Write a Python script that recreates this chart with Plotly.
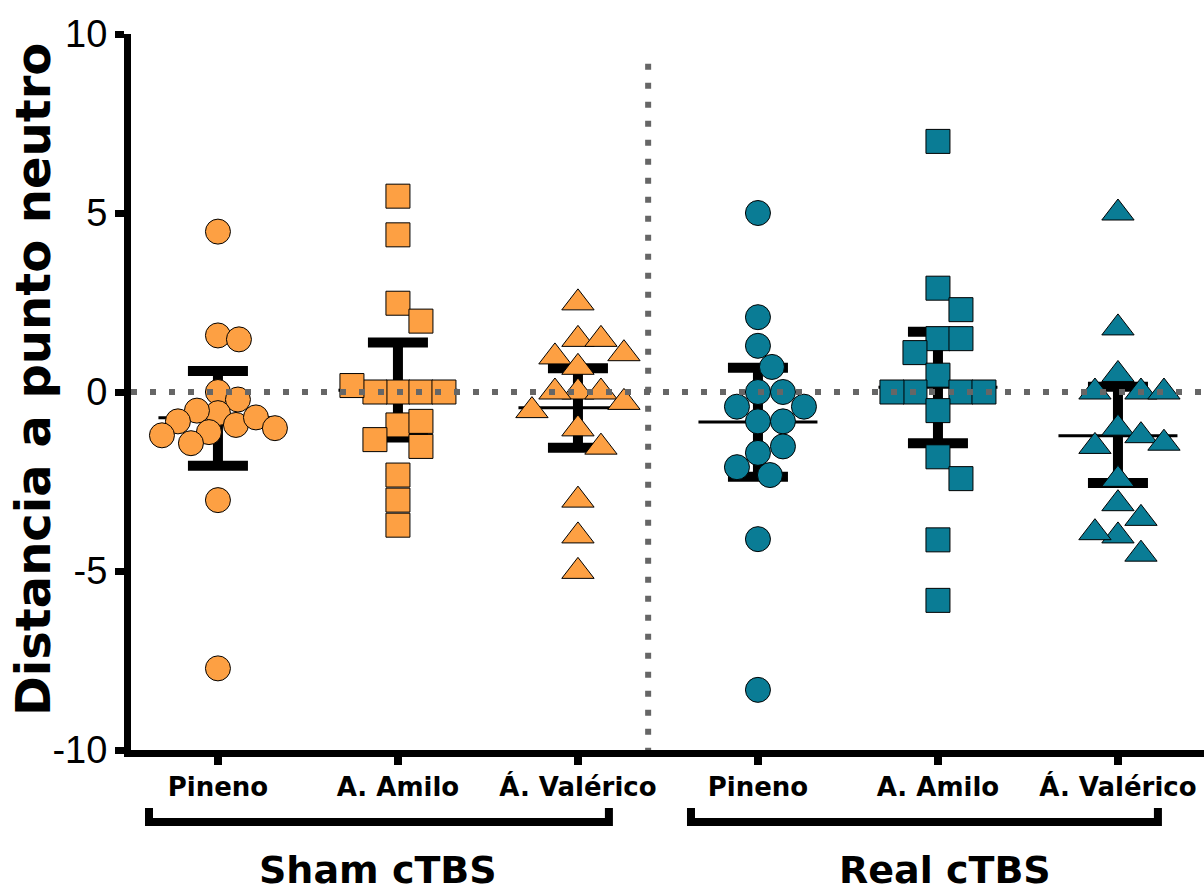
import plotly.graph_objects as go

# ---------------- data ----------------
categories = ["Pineno", "A. Amilo", "Á. Valérico", "Pineno", "A. Amilo", "Á. Valérico"]
group_labels = ["Sham cTBS", "Real cTBS"]

sham_pineno = [4.48, 1.58, 1.47, 0.0, -0.21, -0.59, -0.52, -0.92, -0.71, -0.82, -1.01, -1.12, -1.21, -1.43, -3.02, -7.72]
sham_amilo = [5.47, 4.39, 2.48, 1.98, 0.0, 0.0, 0.0, 0.0, 0.18, -0.92, -0.82, -1.52, -1.33, -2.32, -3.02, -3.72]
sham_valerico = [2.49, 1.47, 1.47, 0.98, 1.07, 0.69, 0.0, 0.0, 0.0, -0.29, -0.52, -1.03, -1.54, -3.02, -4.02, -5.01]
real_pineno = [5.0, 2.09, 1.29, 0.70, 0.0, 0.0, -0.41, -0.41, -0.82, -0.82, -1.70, -1.52, -2.10, -2.32, -4.11, -8.32]
real_amilo = [7.0, 2.90, 2.30, 1.49, 1.49, 1.10, 0.47, 0.0, 0.0, 0.0, 0.0, -0.52, -1.81, -2.42, -4.13, -5.82]
real_valerico = [5.0, 1.79, 0.49, 0.0, 0.0, 0.0, -1.01, -1.22, -1.52, -1.43, -2.44, -3.12, -3.53, -4.02, -3.93, -4.53]

means = [-0.72, 0.05, -0.44, -0.84, 0.13, -1.22]
ci_low = [-2.06, -1.27, -1.56, -2.37, -1.43, -2.54]
ci_high = [0.59, 1.38, 0.66, 0.68, 1.68, 0.15]

y_ticks = [-10, -5, 0, 5, 10]
y_ticktext = ["-10", "-5", "0", "5", "10"]

# ---------------- styling ----------------
ORANGE = "#FDA043"
TEAL = "#0A7C95"
W, H = 1204, 895
M_L, M_R, M_T, M_B = 131, 0, 34, 145
X_RANGE = [0.517, 6.478]
Y_RANGE = [-10, 10]
PX_X = (W - M_L - M_R) / (X_RANGE[1] - X_RANGE[0])
PX_Y = (H - M_T - M_B) / (Y_RANGE[1] - Y_RANGE[0])


def swarm(vals, dia, kind):
    """Greedy beeswarm: horizontal offsets (in axis units) so markers barely overlap."""
    placed = []
    offs = []
    for v in vals:
        y = v * PX_Y
        best = 0
        found = False
        for k in range(0, 400):
            for cand in ([0] if k == 0 else [k, -k]):
                ok = True
                for (px, py) in placed:
                    dx = cand - px
                    dy = y - py
                    if kind == "circle":
                        hit = dx * dx + dy * dy < dia * dia
                    else:
                        hit = abs(dx) < dia and abs(dy) < dia
                    if hit:
                        ok = False
                        break
                if ok:
                    best = cand
                    found = True
                    break
            if found:
                break
        placed.append((best, y))
        offs.append(best / PX_X)
    return offs


series = [
    (sham_pineno, "circle", ORANGE, 25, 21),
    (sham_amilo, "square", ORANGE, 24, 23),
    (sham_valerico, "triangle-up", ORANGE, 28, 23),
    (real_pineno, "circle", TEAL, 25, 25),
    (real_amilo, "square", TEAL, 24, 23),
    (real_valerico, "triangle-up", TEAL, 28, 23),
]

fig = go.Figure()

# mean + 95% CI bars (behind the points)
positions = list(range(1, 7))
fig.add_trace(go.Scatter(
    x=positions, y=means, mode="markers",
    marker=dict(symbol="line-ew", size=85, color="black", line=dict(color="black", width=3)),
    error_y=dict(type="data", symmetric=False,
                 array=[h - m for h, m in zip(ci_high, means)],
                 arrayminus=[m - l for m, l in zip(means, ci_low)],
                 color="black", thickness=10, width=30),
    showlegend=False, hoverinfo="skip",
))

for i, (vals, sym, col, size, dia) in enumerate(series):
    kind = "circle" if sym == "circle" else "box"
    offs = swarm(vals, dia, kind)
    fig.add_trace(go.Scatter(
        x=[positions[i] + o for o in offs], y=vals, mode="markers",
        marker=dict(symbol=sym, size=size, color=col, line=dict(color="black", width=1)),
        showlegend=False,
    ))

# zero reference line and group separator (dotted, above points)
fig.add_shape(type="line", xref="paper", yref="y", x0=0, x1=1, y0=0, y1=0,
              line=dict(color="#666666", width=6, dash="6px,13px"), layer="above")
fig.add_shape(type="line", xref="x", yref="y", x0=3.39, x1=3.39, y0=9.17, y1=-10,
              line=dict(color="#666666", width=6, dash="6px,13px"), layer="above")


def py2paper(py):
    return (H - M_B - py) / (H - M_T - M_B)


def px2x(px):
    return X_RANGE[0] + (px - M_L) / PX_X


# group brackets
for (x0, x1) in [(0.617, 3.172), (3.628, 6.222)]:
    fig.add_shape(type="path", xref="x", yref="paper",
                  path=f"M {x0},{py2paper(808)} L {x0},{py2paper(822)} L {x1},{py2paper(822)} L {x1},{py2paper(808)}",
                  line=dict(color="black", width=8), layer="above")

for lbl, xc in zip(group_labels, [px2x(378), px2x(945)]):
    fig.add_annotation(text=lbl, x=xc, xref="x", y=py2paper(870), yref="paper",
                       showarrow=False, yanchor="middle", xanchor="center",
                       font=dict(family="DejaVu Sans", size=38, color="black", weight="bold"))

# y-axis title
fig.add_annotation(text="Distancia a punto neutro", textangle=-90,
                   x=(33 - M_L) / (W - M_L - M_R), xref="paper", xanchor="center",
                   y=py2paper(380), yref="paper", yanchor="middle", showarrow=False,
                   font=dict(family="DejaVu Sans", size=48, color="black", weight="bold"))

fig.update_layout(
    width=W, height=H, autosize=False,
    margin=dict(l=M_L, r=M_R, t=M_T, b=M_B),
    plot_bgcolor="white", paper_bgcolor="white",
    xaxis=dict(range=X_RANGE, showgrid=False, zeroline=False, showline=True,
               linecolor="black", linewidth=7, ticks="outside", ticklen=8, tickwidth=8,
               tickcolor="black", tickvals=positions, ticktext=categories,
               tickfont=dict(family="DejaVu Sans", size=26, color="black", weight="bold")),
    yaxis=dict(range=Y_RANGE, showgrid=False, zeroline=False, showline=True,
               linecolor="black", linewidth=7, ticks="outside", ticklen=9, tickwidth=7,
               tickcolor="black", tickvals=y_ticks, ticktext=y_ticktext,
               tickfont=dict(family="Liberation Sans", size=38, color="black")),
)

fig.write_html("out.html", config={"displayModeBar": False},
               post_script="document.body.style.margin='0';")
